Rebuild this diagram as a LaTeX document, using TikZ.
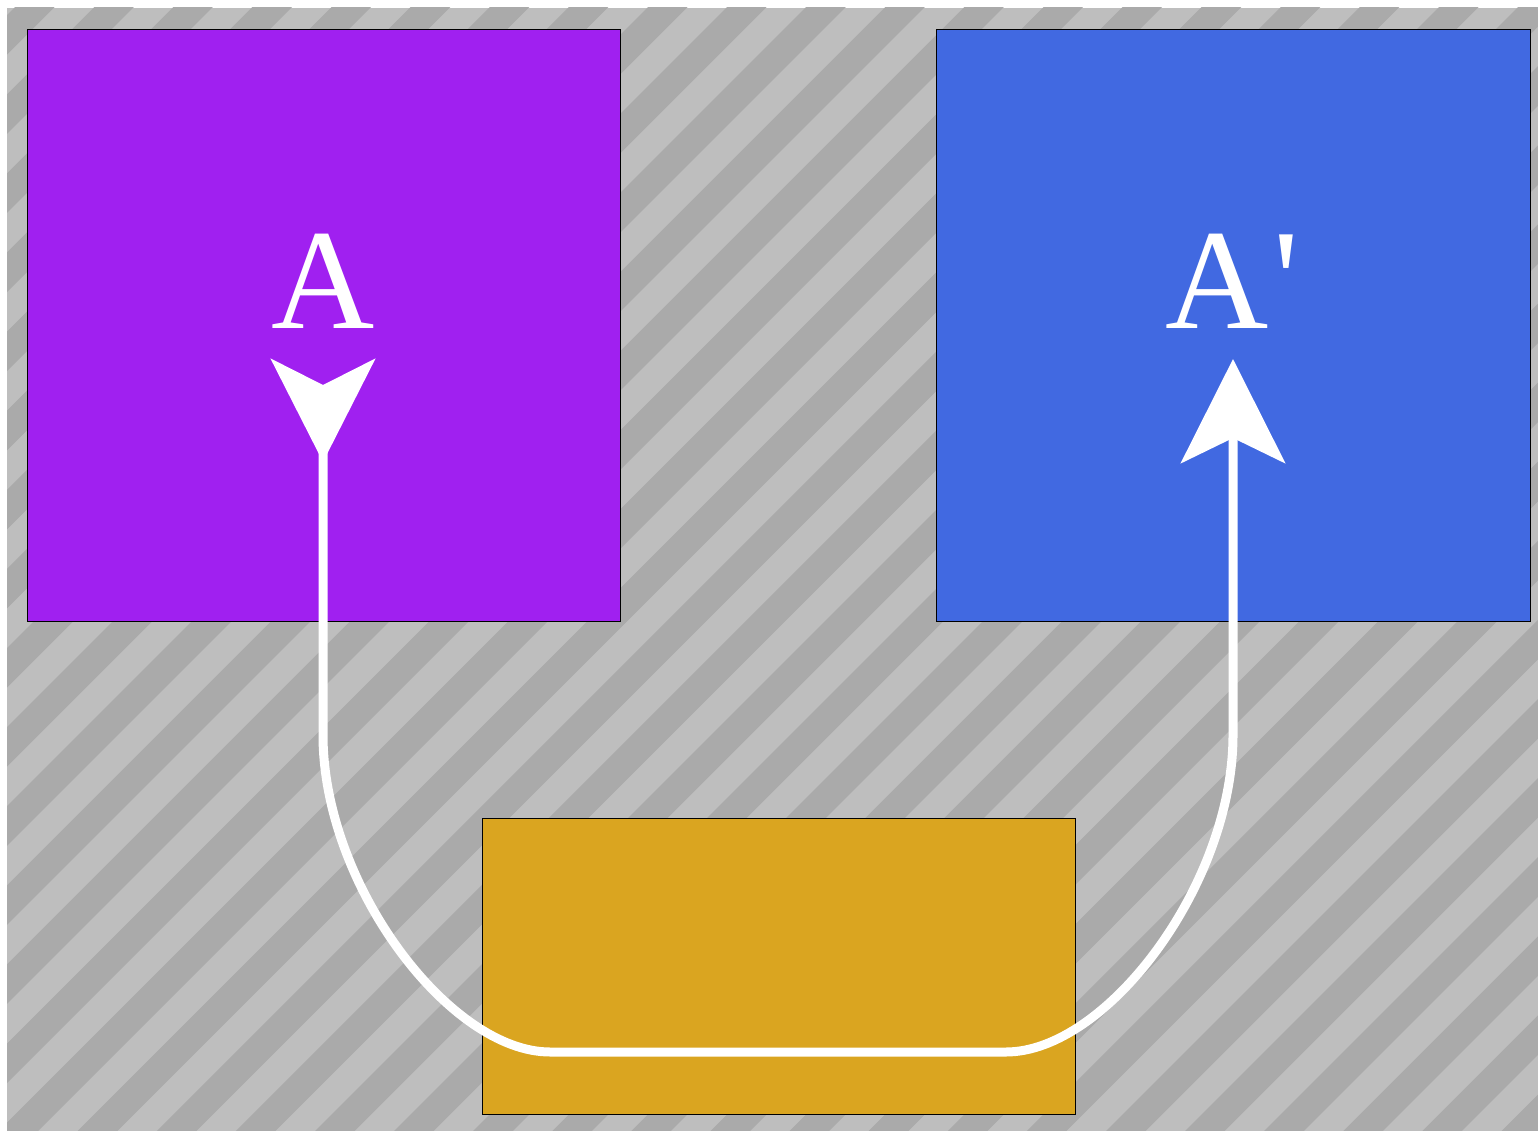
\documentclass[tikz,border=0pt]{standalone}
\usepackage{fontspec}
\setmainfont{Liberation Serif}
\usetikzlibrary{arrows.meta}
\definecolor{stripelight}{HTML}{BEBEBE}
\definecolor{stripedark}{HTML}{AAAAAA}
\definecolor{boxpurple}{HTML}{A020F0}
\definecolor{boxblue}{HTML}{4169E1}
\definecolor{boxgold}{HTML}{DAA520}
\tikzset{
  panel/.style={draw=black, line width=1pt},
  biglabel/.style={text=white, anchor=base, inner sep=0pt, font=\fontsize{143}{160}\selectfont},
  conn/.style={draw=white, line width=9pt,
    {Stealth[reversed, length=103pt, width=104pt, inset=26pt]}-{Stealth[length=104pt, width=104pt, inset=25pt]}}
}
\begin{document}
\begin{tikzpicture}[x=1pt, y=-1pt]
\useasboundingbox (0,0) rectangle (1538,1131);
% hatched background
\fill[stripelight] (7,8) rectangle (1538,1131);
\begin{scope}
  \clip (7,8) rectangle (1538,1131);
  \foreach \k in {-9,...,30} {
    \pgfmathsetmacro{\s}{655+79.1*\k+19.775}
    \draw[stripedark, line width=27.97pt] (\s+200,-200) -- (\s-1400,1400);
  }
\end{scope}
% boxes
\node[panel, fill=boxpurple, minimum width=593pt, minimum height=592pt, inner sep=0pt, anchor=north west] (boxA) at (27,29) {};
\node[panel, fill=boxblue, minimum width=594pt, minimum height=592pt, inner sep=0pt, anchor=north west] (boxB) at (936,29) {};
\node[panel, fill=boxgold, minimum width=593pt, minimum height=296pt, inner sep=0pt, anchor=north west] (boxC) at (482,818) {};
% labels
\node[biglabel] (labA) at (323.5,328) {A};
\node[biglabel] (labB) at (1232,328) {A\kern5pt\textquotesingle};
% connector
\coordinate (sA) at (323,359);
\coordinate (eB) at (1233,359);
\coordinate (c1) at (323,735);
\coordinate (c2) at (550,1052);
\coordinate (c3) at (1006,1052);
\coordinate (c4) at (1233,735);
\draw[conn] (sA) -- (c1) .. controls (323,885) and (450,1052) .. (c2) -- (c3) .. controls (1106,1052) and (1233,885) .. (c4) -- (eB);
\end{tikzpicture}
\end{document}
